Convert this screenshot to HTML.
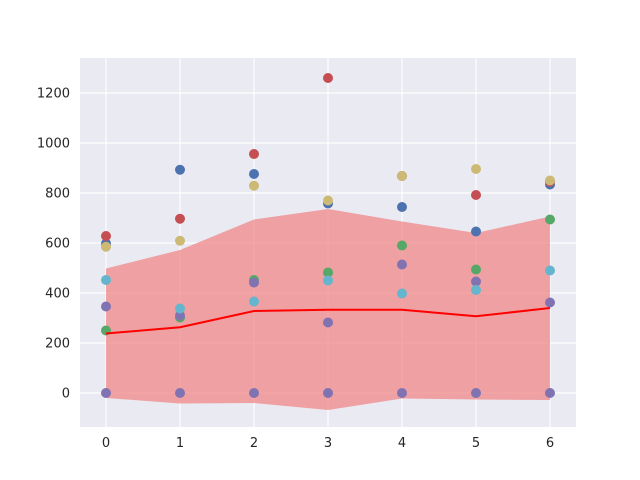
<!DOCTYPE html>
<html><head><meta charset="utf-8"><style>body{margin:0;background:#fff}svg{display:block}</style></head>
<body>
<svg id="chart" width="640" height="480" font-family="DejaVu Sans, Liberation Sans, sans-serif" font-size="13">
<rect x="80" y="58" width="496" height="369" fill="#EAEAF2"/>
<g id="grid"></g><g id="band"></g><g id="pts"></g><g id="ticks"></g>
</svg>
<script>
const categories=[0,1,2,3,4,5,6];
const blue=[598,893,876,758,744,646,834];
const green=[250,302,452,482,590,494,694];
const red=[628,697,956,1260,868,792,845];
const purple=[346,310,442,282,514,446,362];
const yellow=[585,609,829,770,868,896,850];
const cyan=[452,338,366,450,398,412,490];
const zeros=[0,0,0,0,0,0,0];
const meanLine=[238,263,328,333,333,307,340];
const bandUpper=[498,572,694,736,686,640,706];
const bandLower=[-20,-42,-40,-68,-22,-26,-28];
const yTicks=[0,200,400,600,800,1000,1200];
const xTicks=[0,1,2,3,4,5,6];
const NS='http://www.w3.org/2000/svg';
const X=v=>106+74*v, Y=v=>393-0.25*v;
function mk(t,a,p){const e=document.createElementNS(NS,t);for(const k in a)e.setAttribute(k,a[k]);p.appendChild(e);return e;}
const grid=document.getElementById('grid'),band=document.getElementById('band'),pts=document.getElementById('pts'),ticks=document.getElementById('ticks');
yTicks.forEach(v=>{const l=mk('line',{x1:80,x2:576,y1:Y(v),y2:Y(v),stroke:'#fff','stroke-width':1.2},grid);


const t=mk('text',{x:70,y:Y(v)+4.5,'text-anchor':'end',fill:'#262626'},ticks);t.textContent=v;

});
xTicks.forEach(v=>{const l=mk('line',{x1:X(v),x2:X(v),y1:58,y2:427,stroke:'#fff','stroke-width':1.2},grid);


const t=mk('text',{x:X(v),y:447,'text-anchor':'middle',fill:'#262626'},ticks);t.textContent=v;

});
let d=categories.map((c,i)=>(i?'L':'M')+X(c)+','+Y(bandUpper[i])).join('')+categories.slice().reverse().map((c,j)=>'L'+X(c)+','+Y(bandLower[categories.length-1-j])).join('')+'Z';
const b=mk('path',{d:d,fill:'#F08080','fill-opacity':0.7},band);


const series=[[blue,'#4C72B0'],[green,'#55A868'],[red,'#C44E52'],[purple,'#8172B2'],[yellow,'#CCB974'],[cyan,'#64B5CD'],[zeros,'#8172B2']];
series.forEach(([s,c])=>s.forEach((v,i)=>{const p=mk('circle',{cx:X(categories[i]),cy:Y(v),r:5,fill:c},pts);

}));
const ln=mk('polyline',{points:categories.map((c,i)=>X(c)+','+Y(meanLine[i])).join(' '),fill:'none',stroke:'#FF0000','stroke-width':2},pts);


</script>
</body></html>
